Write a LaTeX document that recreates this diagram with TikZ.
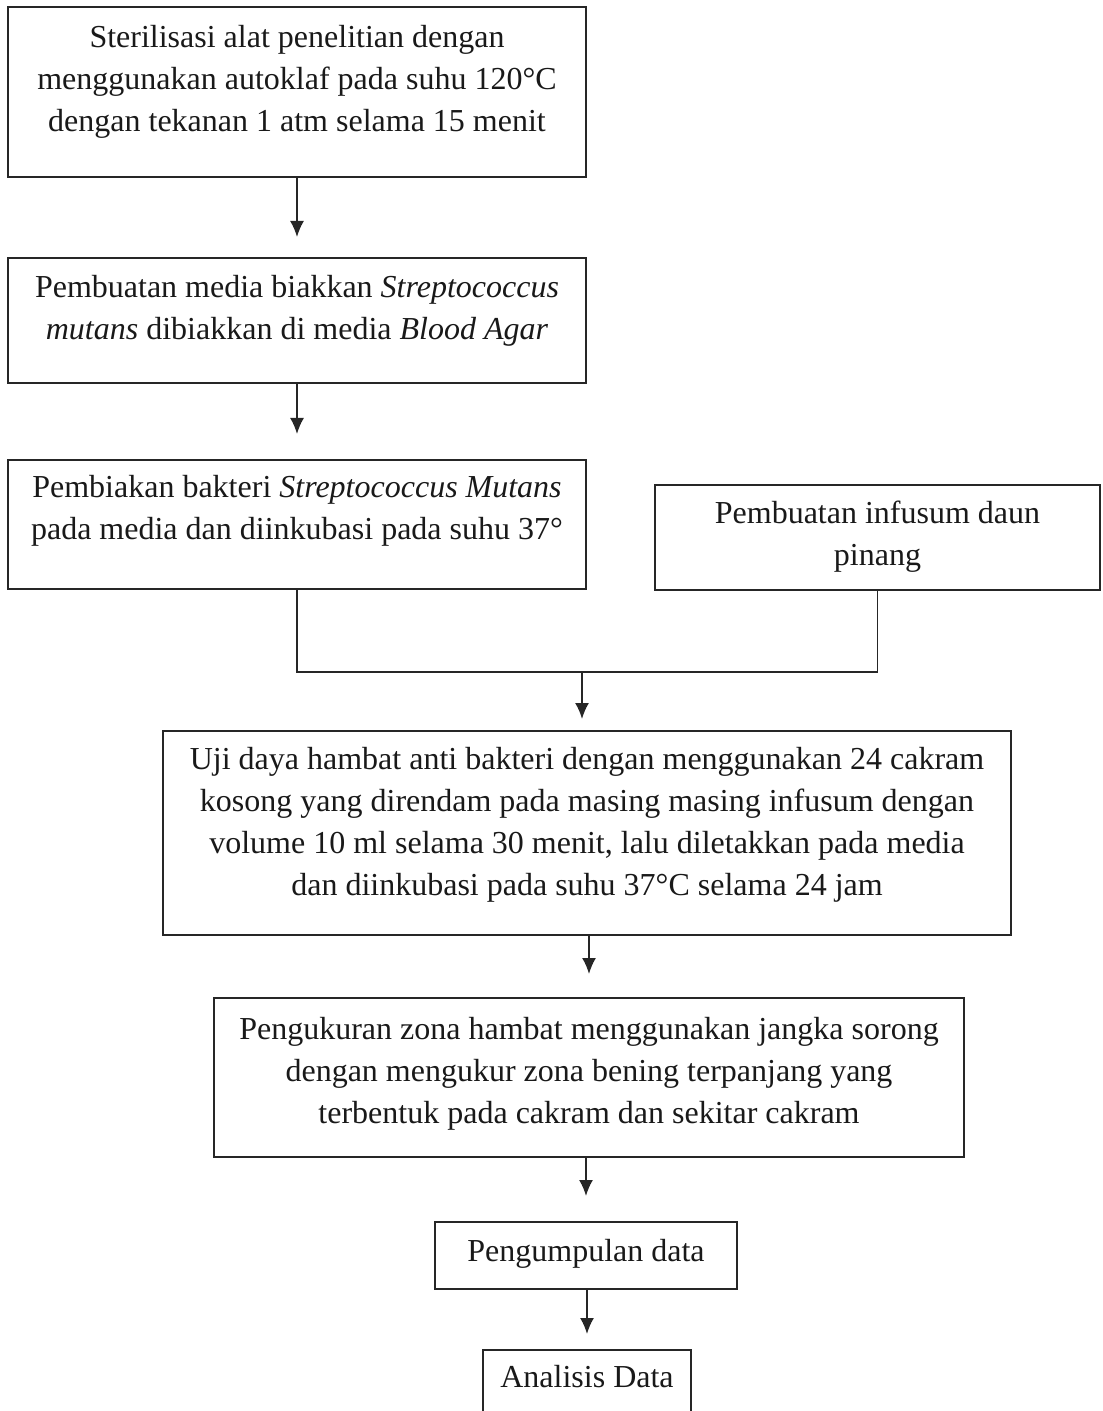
\documentclass[tikz,border=0pt]{standalone}
\usepackage{fontspec}
\setmainfont{Liberation Serif}
\usetikzlibrary{arrows.meta}

\tikzset{
    box/.style={draw=black!85, line width=1pt, inner sep=0pt},
    txt/.style={align=center, anchor=north, inner sep=0pt, text=black!90,
        font=\fontsize{16}{21}\selectfont},
    arr/.style={-{Latex[length=8pt,width=7pt]}, line width=0.9pt, draw=black!85}
}

\begin{document}
\begin{tikzpicture}[x=0.5pt,y=-0.5pt]
    \clip (0,0) rectangle (1102,1411);

    \begin{scope}[every node/.style={box}]
        \node[minimum width=289pt, minimum height=85pt]   (steril)  at (297,92) {};
        \node[minimum width=289pt, minimum height=62.5pt] (media)   at (297,320.5) {};
        \node[minimum width=289pt, minimum height=64.5pt] (biak)    at (297,524.5) {};
        \node[minimum width=222.5pt, minimum height=52.5pt] (infus) at (877.5,537.5) {};
        \node[minimum width=424pt, minimum height=102pt]  (uji)     at (587,833) {};
        \node[minimum width=375pt, minimum height=79.5pt] (ukur)    at (589,1077.5) {};
        \node[minimum width=151pt, minimum height=33.5pt] (kumpul)  at (586,1255.5) {};
        \node[minimum width=104pt, minimum height=40pt]   (analisis) at (587,1390) {};
    \end{scope}

    \node[txt] (sterilT) at (297,25) {Sterilisasi alat penelitian dengan\\
        menggunakan autoklaf pada suhu 120°C\\dengan tekanan 1 atm selama 15 menit};
    \node[txt] (mediaT) at (297,275) {Pembuatan media biakkan \textit{Streptococcus}\\
        \textit{mutans} dibiakkan di media \textit{Blood Agar}};
    \node[txt] (biakT) at (297,475) {Pembiakan bakteri \textit{Streptococcus Mutans}\\
        pada media dan diinkubasi pada suhu 37°};
    \node[txt] (infusT) at (877.5,501) {Pembuatan infusum daun\\pinang};
    \node[txt] (ujiT) at (587,747) {Uji daya hambat anti bakteri dengan menggunakan 24 cakram\\
        kosong yang direndam pada masing masing infusum dengan\\
        volume 10 ml selama 30 menit, lalu diletakkan pada media\\
        dan diinkubasi pada suhu 37°C selama 24 jam};
    \node[txt] (ukurT) at (589,1017) {Pengukuran zona hambat menggunakan jangka sorong\\
        dengan mengukur zona bening terpanjang yang\\
        terbentuk pada cakram dan sekitar cakram};
    \node[txt] (kumpulT) at (586,1239) {Pengumpulan data};
    \node[txt] (analisisT) at (587,1365) {Analisis Data};

    \coordinate (gabung) at (582,672);

    \draw[arr, shorten >=10pt] (steril) -- (media);
    \draw[arr, shorten >=12.5pt] (media) -- (biak);
    \draw[line width=0.9pt, draw=black!85] (biak.south) |- (gabung) -| (infus.south);
    \draw[arr, shorten >=5.5pt] (gabung) -- (gabung |- uji.north);
    \draw[arr, shorten >=11.5pt] (uji.south -| ukur) -- (ukur.north);
    \draw[arr, shorten >=12.5pt] (ukur.south -| kumpul) -- (kumpul.north);
    \draw[arr, shorten >=7.5pt] (kumpul.south -| analisis) -- (analisis.north);
\end{tikzpicture}
\end{document}
